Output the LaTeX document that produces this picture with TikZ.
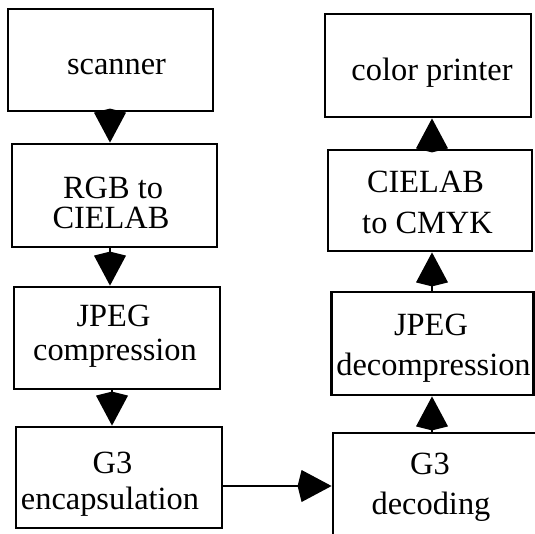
\documentclass[tikz,border=0pt]{standalone}
\usepackage{fontspec}
\setmainfont{Liberation Serif}
\usetikzlibrary{arrows.meta}
\begin{document}
\begin{tikzpicture}[x=1pt,y=-1pt,
  box/.style={draw=black, line width=2.8pt, inner sep=0pt, rectangle},
  lbl/.style={inner sep=0pt, anchor=base, font=\fontsize{32.4}{33}\selectfont},
  arr/.style={line width=2.8pt, -{Kite[length=34pt 0 0, width=32pt 0 0, inset=4pt 0]}}]
\useasboundingbox (0,0) rectangle (535,533);
\clip (0,0) rectangle (535,533);
% left column
\node[box, minimum width=205pt, minimum height=102pt] (scan) at (110.5,60) {};
\node[box, minimum width=205pt, minimum height=103pt] (rgb) at (114.5,195.5) {};
\node[box, minimum width=206pt, minimum height=102pt] (jpeg) at (117,338) {};
\node[box, minimum width=206pt, minimum height=101pt] (g3e) at (119,477.5) {};
% right column
\node[box, minimum width=206pt, minimum height=103pt] (prn) at (428,65.5) {};
\node[box, minimum width=204pt, minimum height=101pt] (cmyk) at (430,200.5) {};
\node[box, minimum width=202pt, minimum height=103pt] (jpegd) at (432.5,343.5) {};
\node[box, minimum width=204pt, minimum height=102pt] (g3d) at (435,484) {};
% labels
\node[lbl] (t1) at (116.5,74) {scanner};
\node[lbl] (t2a) at (113,198) {RGB to};
\node[lbl] (t2b) at (111,228.5) {CIELAB};
\node[lbl] (t3a) at (113.5,326.5) {JPEG};
\node[lbl] (t3b) at (115,360.5) {compression};
\node[lbl] (t4a) at (112.5,473.5) {G3};
\node[lbl] (t4b) at (110,509.5) {encapsulation};
\node[lbl] (t5) at (432,80) {color printer};
\node[lbl] (t6a) at (425.5,192.5) {CIELAB};
\node[lbl] (t6b) at (427.5,233) {to CMYK};
\node[lbl] (t7a) at (431,335) {JPEG};
\node[lbl] (t7b) at (433.5,375) {decompression};
\node[lbl] (t8a) at (430,474) {G3};
\node[lbl] (t8b) at (431,514.5) {decoding};
% connectors
\coordinate (cl1) at (110,0);
\coordinate (cl2) at (112,0);
\coordinate (cr) at (432,0);
\coordinate (hr) at (0,486);
\draw[arr] (scan.south -| cl1) -- (rgb.north -| cl1);
\draw[arr] (rgb.south -| cl1) -- (jpeg.north -| cl1);
\draw[arr] (jpeg.south -| cl2) -- (g3e.north -| cl2);
\draw[arr] (g3e.east |- hr) -- (g3d.west |- hr);
\draw[arr] (g3d.north -| cr) -- (jpegd.south -| cr);
\draw[arr] (jpegd.north -| cr) -- (cmyk.south -| cr);
\draw[arr] (cmyk.north -| cr) -- (prn.south -| cr);
\end{tikzpicture}
\end{document}
